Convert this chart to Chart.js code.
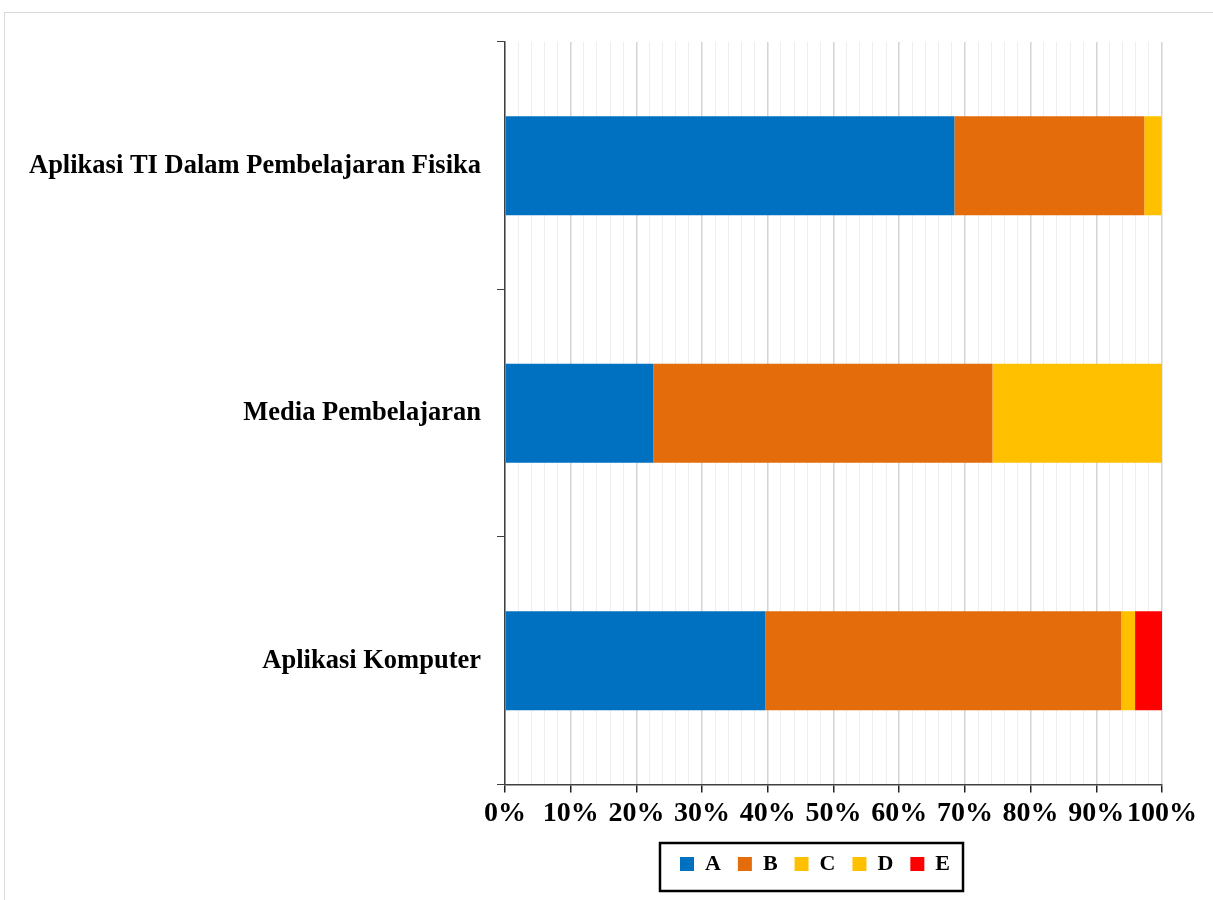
<!DOCTYPE html>
<html>
<head>
<meta charset="utf-8">
<script src="https://cdn.jsdelivr.net/npm/chart.js@4/dist/chart.umd.min.js"></script>
<style>
  html, body { margin: 0; padding: 0; background: #fff; }
  #wrap { position: absolute; left: 0; top: 0; width: 1213px; height: 900px; }
  #frame { position: absolute; left: 4px; top: 12px; width: 1300px; height: 1000px;
           border-top: 1px solid #d9d9d9; border-left: 1px solid #d9d9d9; }
  canvas { position: absolute; left: 0; top: 0; }
</style>
</head>
<body>
<div id="wrap">
  <div id="frame"></div>
  <canvas id="chart" width="1213" height="900"></canvas>
</div>
<script>
const categories = ['Aplikasi TI Dalam Pembelajaran Fisika', 'Media Pembelajaran', 'Aplikasi Komputer']
const seriesNames = ['A', 'B', 'C', 'D', 'E']
// percent of students per grade
const gradeA = [68.4, 22.6, 39.6]
const gradeB = [28.9, 51.6, 54.2]
const gradeC = [2.6, 25.8, 2.1]
const gradeD = [0, 0, 0]
const gradeE = [0, 0, 4.2]
const colors = ['#0070C0', '#E46C0A', '#FFC000', '#FFC000', '#FF0000']

const serif = "'Liberation Serif', 'Times New Roman', serif"
const padLeft = 10
const legendCenter = 815

// move the legend under the plot and frame it like the original figure
const legendBox = {
  id: 'legendBox',
  afterLayout(chart) {
    const lg = chart.legend
    if (!lg) return
    const d = legendCenter - (lg.left + lg.right) / 2
    lg.left += d
    lg.right += d
  },
  afterDraw(chart) {
    const boxes = chart.legend && chart.legend.legendHitBoxes
    if (!boxes || !boxes.length) return
    const left = Math.min(...boxes.map(b => b.left)) - 20
    const right = Math.max(...boxes.map(b => b.left + b.width)) + 13
    const top = boxes[0].top - 10
    const ctx = chart.ctx
    ctx.save()
    ctx.strokeStyle = '#000'
    ctx.lineWidth = 2.5
    ctx.strokeRect(left, top, right - left, 48)
    ctx.restore()
  }
}

new Chart(document.getElementById('chart'), {
  type: 'bar',
  data: {
    labels: categories,
    datasets: [gradeA, gradeB, gradeC, gradeD, gradeE].map((d, i) => ({
      label: seriesNames[i],
      data: d,
      backgroundColor: colors[i],
      borderWidth: 0,
      categoryPercentage: 1,
      barPercentage: 0.4
    }))
  },
  options: {
    indexAxis: 'y',
    responsive: false,
    animation: false,
    layout: { padding: { top: 42, right: 51, bottom: 15, left: padLeft } },
    plugins: {
      tooltip: { enabled: false },
      legend: {
        position: 'bottom',
        labels: {
          boxWidth: 14,
          boxHeight: 14,
          padding: 17,
          color: '#000',
          font: { family: serif, size: 22, weight: 'bold' }
        }
      }
    },
    scales: {
      x: {
        stacked: true,
        min: 0,
        max: 100,
        border: { color: '#404040', width: 1.5 },
        grid: {
          color: c => (c.tick && c.tick.value % 10 === 0) ? '#d4d4d4' : '#eeeeee',
          lineWidth: c => (c.tick && c.tick.value % 10 === 0) ? 1.5 : 1,
          tickColor: c => (c.tick && c.tick.value % 10 === 0) ? '#222' : 'rgba(0,0,0,0)',
          tickLength: 8
        },
        ticks: {
          stepSize: 2,
          autoSkip: false,
          maxRotation: 0,
          padding: 5,
          color: '#000',
          font: { family: serif, size: 28, weight: 'bold' },
          callback: v => v % 10 === 0 ? v + '%' : ''
        }
      },
      y: {
        stacked: true,
        afterFit: s => { s.width = 505 - padLeft },
        border: { color: '#404040', width: 1.5 },
        grid: {
          drawOnChartArea: false,
          tickColor: '#404040',
          tickLength: 8
        },
        ticks: {
          padding: 16,
          color: '#000',
          font: { family: serif, size: 26.5, weight: 'bold' }
        }
      }
    }
  },
  plugins: [legendBox]
})
</script>
</body>
</html>
